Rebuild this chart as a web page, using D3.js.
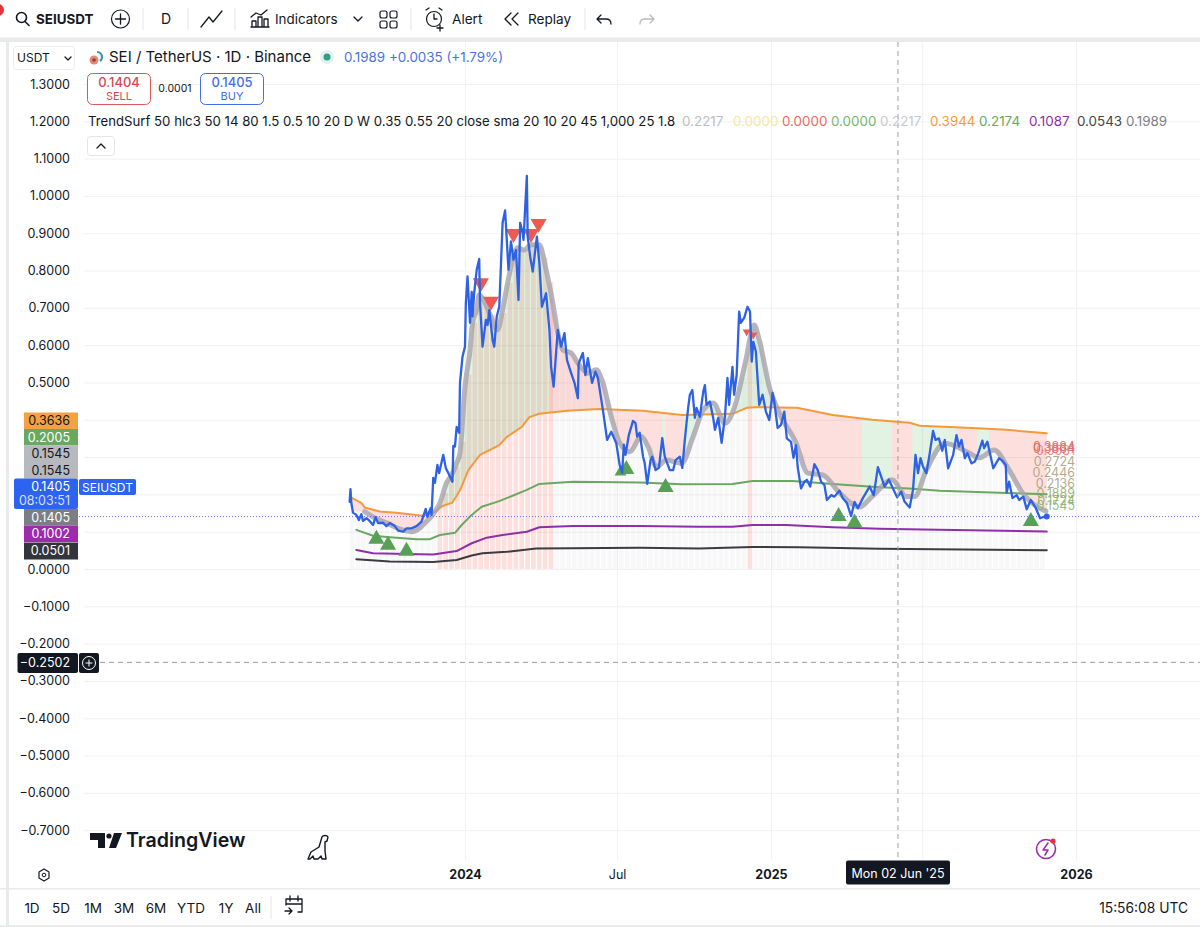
<!DOCTYPE html>
<html><head><meta charset="utf-8">
<script src="https://cdn.jsdelivr.net/npm/d3@7"></script>
<style>html,body{margin:0;padding:0;background:#fff;overflow:hidden}svg{display:block}text{font-family:Inter,"Noto Sans",sans-serif}</style>
</head><body><svg id="c" width="1200" height="927"></svg>
<script>
// ---------- data: days since 2023-08-16, prices in USDT ----------
const priceDays=[0,1,2,4,8,11,14,16,20,23,28,31,34,40,44,48,54,58,64,68,74,80,86,91,93,97,98,100,102,105,107,112,115,118,123,124,126,128,131,132,135,138,139,141,144,146,147,149,152,155,156,159,163,165,167,171,173,176,179,183,186,190,193,196,199,202,204,207,208,212,213,216,219,224,227,230,235,239,241,244,249,253,257,260,265,269,273,274,279,282,285,290,294,297,303,308,313,319,323,326,328,330,334,339,342,344,347,351,353,356,360,362,366,370,374,377,383,387,390,395,398,401,403,405,407,410,413,415,419,423,425,427,431,435,437,441,445,449,452,454,458,460,463,466,468,472,476,479,481,483,486,490,494,498,502,506,508,512,516,520,523,528,531,534,536,540,544,547,551,556,560,564,568,571,576,580,586,590,595,600,604,608,614,622,627,632,636,640,645,650,655,660,664,670,674,677,680,683,686,690,694,698,701,705,709,712,716,722,726,729,732,736,739,744,748,752,757,759,763,770,777,781,785,786,789,793,798,801,806,810,815,821,826,831,834];
const priceValues=[.180,.214,.177,.151,.145,.131,.147,.129,.136,.131,.118,.139,.123,.124,.115,.123,.115,.103,.100,.109,.109,.115,.127,.161,.140,.164,.145,.244,.231,.279,.257,.306,.271,.257,.234,.330,.328,.381,.365,.499,.569,.596,.713,.784,.660,.743,.677,.740,.802,.831,.713,.596,.668,.654,.694,.614,.596,.677,.703,.928,.961,.802,.878,.829,.855,.721,.928,.901,.882,1.054,.891,.837,.797,.891,.820,.703,.739,.641,.542,.489,.641,.596,.632,.560,.525,.499,.458,.551,.579,.520,.565,.499,.529,.512,.426,.346,.368,.337,.279,.258,.333,.306,.359,.397,.391,.355,.365,.301,.284,.228,.292,.301,.265,.271,.351,.301,.265,.265,.292,.301,.271,.346,.391,.432,.467,.480,.405,.432,.408,.475,.493,.440,.449,.404,.373,.405,.338,.408,.512,.440,.542,.467,.520,.690,.660,.673,.703,.690,.556,.609,.583,.440,.467,.422,.399,.472,.449,.378,.386,.422,.350,.341,.298,.332,.274,.216,.234,.239,.221,.281,.265,.234,.225,.185,.198,.194,.210,.190,.176,.142,.180,.163,.190,.221,.198,.273,.247,.221,.240,.216,.192,.207,.180,.165,.212,.306,.257,.297,.274,.257,.310,.370,.346,.350,.317,.346,.270,.306,.359,.328,.346,.297,.311,.283,.288,.310,.344,.324,.341,.270,.297,.290,.279,.205,.234,.190,.198,.185,.194,.160,.185,.163,.136,.140,.1405];
const smaDays=[18,30,45,57,74,81,90,99,108,116,122,128,132,138,144,147,152,155,161,169,177,183,189,195,201,209,217,227,235,243,249,255,265,273,285,295,303,313,323,335,349,357,367,379,397,411,423,435,449,462,474,484,490,502,514,534,548,566,586,610,625,649,666,676,690,712,741,753,771,789,805,833];
const smaValues=[.154,.137,.123,.110,.100,.105,.123,.145,.177,.231,.252,.284,.311,.489,.587,.660,.695,.735,.717,.677,.641,.695,.767,.829,.861,.855,.869,.869,.802,.713,.633,.587,.579,.552,.525,.534,.499,.408,.338,.314,.355,.328,.274,.292,.283,.355,.426,.445,.391,.445,.560,.654,.614,.489,.418,.338,.257,.252,.204,.166,.194,.239,.194,.194,.265,.337,.311,.298,.319,.265,.204,.1545];
const upperDays=[3,14,18,36,56,87,102,111,123,132,142,156,179,188,206,215,227,260,299,351,398,458,475,490,535,578,625,670,682,745,786,834];
const upperValues=[.190,.177,.165,.154,.151,.143,.153,.169,.178,.211,.265,.306,.332,.354,.381,.407,.416,.424,.429,.424,.413,.416,.432,.434,.432,.413,.400,.392,.384,.378,.373,.3636];
const midDays=[8,28,48,80,96,108,126,134,146,158,179,212,227,267,347,398,458,482,530,578,634,670,706,786,834];
const midValues=[.105,.089,.085,.080,.080,.091,.097,.118,.145,.167,.182,.212,.228,.234,.232,.227,.228,.236,.236,.228,.219,.216,.210,.204,.2005];
const lowDays=[8,28,68,100,128,146,164,183,212,227,267,347,418,458,482,522,578,634,686,834];
const lowValues=[.051,.042,.040,.039,.048,.069,.084,.091,.100,.112,.115,.115,.113,.113,.118,.118,.112,.108,.106,.1002];
const floorDays=[8,48,100,128,146,159,188,223,347,418,482,538,634,834];
const floorValues=[.026,.020,.019,.024,.036,.042,.046,.055,.057,.055,.059,.058,.054,.0501];
const sellDays=[157,169,196,217,226], sellValues=[.767,.717,.899,.899,.926];
const minorSellDays=[475,483], minorSellValues=[.636,.628];
const buyDays=[32,46,68,331,378,585,604,815], buyValues=[.080,.064,.048,.267,.219,.141,.124,.128];
const minorBuyDays=[324], minorBuyValues=[.260];
const pinkZones=[[3,100],[240,374],[378,400],[502,613],[649,673],[726,751],[765,834]];
const greenZones=[[100,240],[374,378],[400,502],[613,649],[673,726],[751,765]];
const hotWeeks=[[105,245],[473,480]];
const yTicks=[1.3,1.2,1.1,1,.9,.8,.7,.6,.5,.4,.3,.2,.1,0,-.1,-.2,-.3,-.4,-.5,-.6,-.7];
const yLabelsUnderTags=[.4,.3,.2,.1];
const xTickDates=[new Date(Date.UTC(2024,0,1)),new Date(Date.UTC(2024,6,1)),new Date(Date.UTC(2025,0,1)),new Date(Date.UTC(2026,0,1))];
const xTickNames=["2024","Jul","2025","2026"];
const xGridDates=[...xTickDates,new Date(Date.UTC(2025,6,1))];
const priceTags=[["0.3636","#f4a13f","#131722"],["0.2005","#68a95f","#fff"],["0.1545","#b7b9be","#131722"],["0.1545","#b7b9be","#131722"],["0.1405","#7c7e85","#fff"],["0.1002","#9c2cab","#fff"],["0.0501","#33353d","#fff"]];
const endLabels=[["0.3884",451,"#e0605a"],["0.3864",453,"#e0605a"],["0.3581",455,"#e0807a"],["0.2724",466,"#a89a78"],["0.2446",477,"#a89a78"],["0.2136",488,"#a89a78"],["0.1889",498,"#8fa868"],["0.1724",505,"#8fa868"],["0.1545",510,"#7fb56e"]];
const studyParams="TrendSurf 50 hlc3 50 14 80 1.5 0.5 10 20 D W 0.35 0.55 20 close sma 20 10 20 45 1,000 25 1.8";
const studyValues=[["0.2217","#b9c0c6",682],["0.0000","#f5e79e",733],["0.0000","#ee6a62",782],["0.0000","#79b56f",831],["0.2217","#c6cad0",880],["0.3944","#f49a3b",930],["0.2174","#68a95f",979],["0.1087","#8e2fa8",1029],["0.0543","#444",1077],["0.1989","#7c7e85",1126]];
const rangeButtons=[["1D",32],["5D",61],["1M",93],["3M",124],["6M",156],["YTD",191],["1Y",226],["All",253]];

// ---------- scales ----------
const svg=d3.select("#c");
const dayDate=d=>new Date(Date.UTC(2023,7,16+d));
const x=d3.scaleUtc().domain([new Date(Date.UTC(2024,0,1)),new Date(Date.UTC(2026,0,1))]).range([465,1076]);
const y=d3.scaleLinear().domain([0,1.3]).range([569,84]);
const X=d=>x(dayDate(d));
const smaAt=d3.scaleLinear().domain(smaDays).range(smaValues).clamp(true);
const upperAt=d3.scaleLinear().domain(upperDays).range(upperValues).clamp(true);

// ---------- grid ----------
const grid=svg.append("g").attr("stroke","#f0f1f2").attr("stroke-width",1);
grid.selectAll("line.h").data(yTicks).join("line").attr("class","h").attr("x1",84).attr("x2",1200).attr("y1",d=>y(d)+.5).attr("y2",d=>y(d)+.5);
grid.selectAll("line.v").data(xGridDates).join("line").attr("class","v").attr("y1",42).attr("y2",860).attr("x1",d=>x(d)+.5).attr("x2",d=>x(d)+.5);

// ---------- weekly columns ----------
const weekW=X(7)-X(0);
svg.append("g").selectAll("rect").data(d3.range(0,833,7)).join("rect")
 .attr("x",d=>X(d)).attr("width",weekW-1.1)
 .attr("y",d=>y(smaAt(d))).attr("height",d=>y(0)-y(smaAt(d)))
 .attr("fill",d=>hotWeeks.some(z=>d>=z[0]&&d<z[1])?"rgba(244,67,54,.17)":"rgba(120,123,134,.05)");

// ---------- zones between the average and the upper band ----------
const band=d3.area().x(X).y0(d=>y(upperAt(d))).y1(d=>y(smaAt(d)));
const zoneG=svg.append("g");
pinkZones.forEach(z=>zoneG.append("path").attr("d",band(d3.range(z[0],z[1]+1))).attr("fill","rgba(244,67,54,.17)"));
greenZones.forEach(z=>zoneG.append("path").attr("d",band(d3.range(z[0],z[1]+1))).attr("fill","rgba(76,175,80,.16)"));

// ---------- lines ----------
const line=d3.line().x(p=>X(p[0])).y(p=>y(p[1]));
const zip=(a,b)=>a.map((d,i)=>[d,b[i]]);
const drawLine=(a,b,c,w)=>svg.append("path").attr("d",line(zip(a,b))).attr("fill","none").attr("stroke",c).attr("stroke-width",w).attr("stroke-linejoin","round").attr("stroke-linecap","round");
drawLine(floorDays,floorValues,"#3b3b42",2);
drawLine(lowDays,lowValues,"#8e2fa8",2);
drawLine(midDays,midValues,"#6aa861",2);
drawLine(upperDays,upperValues,"#f49a3b",2);
svg.append("path").attr("d",d3.line().curve(d3.curveMonotoneX).x(p=>X(p[0])).y(p=>y(p[1]))(zip(smaDays,smaValues))).attr("fill","none").attr("stroke","rgba(165,163,170,.8)").attr("stroke-width",5).attr("stroke-linecap","round");

// ---------- signals ----------
const tri=(days,vals,big,col,up)=>svg.append("g").selectAll("path").data(zip(days,vals)).join("path")
 .attr("d",d3.symbol(d3.symbolTriangle,big))
 .attr("transform",p=>`translate(${X(p[0])},${y(p[1])}) ${up?"":"rotate(180)"}`).attr("fill",col);
tri(sellDays,sellValues,112,"#ee5a52",false);
tri(minorSellDays,minorSellValues,28,"#ee5a52",false);
tri(minorBuyDays,minorBuyValues,60,"#5a9f57",true);
tri(buyDays,buyValues,112,"#5a9f57",true);

// dotted price line
svg.append("line").attr("x1",79).attr("x2",1200).attr("y1",y(.1405)).attr("y2",y(.1405)).attr("stroke","#5a7bd8").attr("stroke-width",1).attr("stroke-dasharray","1 2");
drawLine(priceDays,priceValues,"#2e62e3",2.3);
svg.append("circle").attr("cx",X(834)).attr("cy",y(.1405)).attr("r",3).attr("fill","#2e62e3");

// right end labels
svg.append("g").selectAll("text").data(endLabels).join("text").attr("x",1075).attr("y",d=>d[1]).attr("text-anchor","end").attr("font-size",12.5).attr("fill",d=>d[2]).attr("fill-opacity",.85).text(d=>d[0]);

// crosshair
svg.append("line").attr("x1",X(656)).attr("x2",X(656)).attr("y1",42).attr("y2",860).attr("stroke","#9c9ea4").attr("stroke-dasharray","5 4");
svg.append("line").attr("x1",100).attr("x2",1200).attr("y1",y(-.2502)).attr("y2",y(-.2502)).attr("stroke","#9c9ea4").attr("stroke-dasharray","5 4");

// ---------- axes ----------
const yAxis=d3.axisLeft(y).tickValues(yTicks.filter(t=>!yLabelsUnderTags.includes(t))).tickSize(0).tickPadding(0).tickFormat(d3.format(".4f"));
const ya=svg.append("g").attr("transform","translate(70,0)").call(yAxis);
ya.select(".domain").remove();
ya.selectAll("text").attr("font-size",12.5).attr("fill","#131722").attr("font-family","Inter");
const xAxis=d3.axisBottom(x).tickValues(xTickDates).tickSize(0).tickPadding(0).tickFormat((d,i)=>xTickNames[i]);
const xa=svg.append("g").attr("transform","translate(0,870)").call(xAxis);
xa.select(".domain").remove();
xa.selectAll("text").attr("font-size",12.5).attr("fill","#131722").attr("font-family","Inter").attr("font-weight",(d,i)=>i==1?400:700);

// ---------- tags ----------
const tagG=svg.append("g");
const tagRows=[412.5,429,445.5,462,509,525.5,542.5];
priceTags.forEach((t,i)=>{
  tagG.append("rect").attr("x",24).attr("y",tagRows[i]).attr("width",54).attr("height",i==6?17:16.5).attr("fill",t[1]);
  tagG.append("text").attr("x",70).attr("y",tagRows[i]+12.8).attr("text-anchor","end").attr("font-size",12.5).attr("fill",t[2]).text(t[0]);
});
tagG.append("rect").attr("x",14).attr("y",478.5).attr("width",64).attr("height",30.5).attr("rx",2).attr("fill","#2e62f0");
tagG.append("text").attr("x",70).attr("y",491).attr("text-anchor","end").attr("font-size",12.5).attr("fill","#fff").text("0.1405");
tagG.append("text").attr("x",70).attr("y",505).attr("text-anchor","end").attr("font-size",12.5).attr("fill","#d6e0ff").text("08:03:51");
tagG.append("rect").attr("x",79).attr("y",479).attr("width",57).attr("height",16).attr("rx",2).attr("fill","#2e62f0");
tagG.append("text").attr("x",107.5).attr("y",491.5).attr("text-anchor","middle").attr("font-size",12).attr("fill","#fff").text("SEIUSDT");
tagG.append("rect").attr("x",17.5).attr("y",653).attr("width",60.5).attr("height",20).attr("rx",2).attr("fill","#131722");
tagG.append("text").attr("x",70).attr("y",667).attr("text-anchor","end").attr("font-size",12.5).attr("fill","#fff").text("−0.2502");
tagG.append("rect").attr("x",79).attr("y",653).attr("width",20).attr("height",20).attr("rx",2).attr("fill","#131722");
tagG.append("circle").attr("cx",89).attr("cy",663).attr("r",6.5).attr("fill","none").attr("stroke","#fff");
tagG.append("path").attr("d","M89 659.5v7M85.5 663h7").attr("stroke","#fff");
tagG.append("rect").attr("x",846).attr("y",860.5).attr("width",104).attr("height",24).attr("rx",2).attr("fill","#131722");
tagG.append("text").attr("x",898).attr("y",877.5).attr("text-anchor","middle").attr("font-size",12.5).attr("fill","#fff").text("Mon 02 Jun '25");

// ---------- chrome ----------
const ui=svg.append("g");
const T=(s,px,py,o={})=>ui.append("text").attr("x",px).attr("y",py).attr("font-size",o.s||13).attr("fill",o.c||"#131722").attr("font-weight",o.w||400).attr("text-anchor",o.a||"start").text(s);
const S=(d,c="#131722",w=1.3)=>ui.append("path").attr("d",d).attr("fill","none").attr("stroke",c).attr("stroke-width",w).attr("stroke-linecap","round").attr("stroke-linejoin","round");
ui.append("rect").attr("x",0).attr("y",37.5).attr("width",1200).attr("height",4.5).attr("fill","#e9eaec");
ui.append("rect").attr("x",6).attr("y",42).attr("width",3).attr("height",885).attr("fill","#e9eaec");
ui.append("rect").attr("x",0).attr("y",888).attr("width",1200).attr("height",1.5).attr("fill","#e9eaec");
ui.append("rect").attr("x",0).attr("y",925).attr("width",1200).attr("height",2).attr("fill","#e9eaec");
ui.append("circle").attr("cx",-2).attr("cy",10).attr("r",6).attr("fill","#e5343c");
ui.append("circle").attr("cx",21.5).attr("cy",17.5).attr("r",5).attr("fill","none").attr("stroke","#131722").attr("stroke-width",1.6);
S("M25 21.5l4 4","#131722",1.6);
T("SEIUSDT",36,24,{s:13.4,w:700});
ui.append("circle").attr("cx",120.5).attr("cy",19).attr("r",9).attr("fill","none").attr("stroke","#131722").attr("stroke-width",1.2);
S("M120.5 14v10M115.5 19h10");
[143,188,235,411,585].forEach(v=>ui.append("line").attr("x1",v).attr("x2",v).attr("y1",8).attr("y2",30).attr("stroke","#e4e5e8"));
T("D",166,24,{s:14,a:"middle"});
S("M201 27l8-10 4 5 9-11");
S("M251 27h18M252 26v-5h4v5M258 26v-9h4v9M264 26v-7h4v7M251 17l5-4 5 2 6-5");
T("Indicators",275,24,{s:13.4});
S("M354 17l4 4 4-4");
[[380,11],[390,11],[380,21],[390,21]].forEach(p=>ui.append("rect").attr("x",p[0]).attr("y",p[1]).attr("width",7).attr("height",7).attr("rx",2).attr("fill","none").attr("stroke","#131722").attr("stroke-width",1.2));
ui.append("circle").attr("cx",434).attr("cy",19).attr("r",7.5).attr("fill","none").attr("stroke","#131722").attr("stroke-width",1.2);
S("M434 14v5h3M426 10l3-2M442 10l-3-2M440 25v6M437 28h6");
T("Alert",452,24,{s:13.6});
S("M511 13l-6 6 6 6M518 13l-6 6 6 6");
T("Replay",528,24,{s:13.6});
S("M601 15l-4 4 4 4M597 19h9c3 0 5 2 5 5");
S("M650 15l4 4-4 4M654 19h-9c-3 0-5 2-5 5","#b8bac0");
ui.append("rect").attr("x",13.5).attr("y",46.5).attr("width",61).attr("height",23).attr("rx",3).attr("fill","#fff").attr("stroke","#eceded");
T("USDT",17,62,{s:12});
S("M65 57l3 3 3-3");
ui.append("circle").attr("cx",94).attr("cy",60).attr("r",4.5).attr("fill","#d98f7c");
ui.append("circle").attr("cx",94).attr("cy",60).attr("r",1.8).attr("fill","#a33");
ui.append("path").attr("d","M97 52a5 5 0 0 1 5 5a5 5 0 0 1-2 4").attr("fill","none").attr("stroke","#2f9aa0").attr("stroke-width",2.2);
T("SEI / TetherUS · 1D · Binance",109,62,{s:15});
ui.append("circle").attr("cx",327).attr("cy",57).attr("r",7).attr("fill","#e3f1ee");
ui.append("circle").attr("cx",327).attr("cy",57).attr("r",3.5).attr("fill","#2f9e88");
T("0.1989 +0.0035 (+1.79%)",344,62,{s:13.4,c:"#4a72e0"});
ui.append("rect").attr("x",87.5).attr("y",73.5).attr("width",63).attr("height",31).attr("rx",5).attr("fill","#fff").attr("stroke","#e0555a");
T("0.1404",119,87,{s:13,c:"#d8484e",a:"middle",w:500});
T("SELL",119,100,{s:11,c:"#d8484e",a:"middle"});
T("0.0001",175,92,{s:10.5,a:"middle"});
ui.append("rect").attr("x",200.5).attr("y",73.5).attr("width",63).attr("height",31).attr("rx",5).attr("fill","#fff").attr("stroke","#3f6fe8");
T("0.1405",232,87,{s:13,c:"#3f6fe8",a:"middle",w:500});
T("BUY",232,100,{s:11,c:"#3f6fe8",a:"middle"});
T(studyParams,88,126,{s:13.2});
studyValues.forEach(v=>T(v[0],v[2],126,{s:13.4,c:v[1]}));
ui.append("rect").attr("x",87.5).attr("y",136.5).attr("width",27).attr("height",19).attr("rx",3).attr("fill","#fff").attr("stroke","#e4e5e8");
S("M97 148l4-4 4 4");
// TradingView mark
ui.append("path").attr("d","M90 833h15v15h-7v-8h-8zM114 833h8l-6 15h-7z").attr("fill","#131722");
ui.append("circle").attr("cx",109).attr("cy",836).attr("r",2.6).attr("fill","#131722");
T("TradingView",126,847,{s:19.6,w:600});
S("M308 859l3-7 8-5 3-10c1-2 5-2 6 0l-1 4-2 1 0 9 1 8h-4l-1-3-3 3h-4l-1-3-3 3z","#131722",1.4);
S("M39 872l5-3 5 3v6l-5 3-5-3z","#131722",1.2);
ui.append("circle").attr("cx",44).attr("cy",875).attr("r",1.8).attr("fill","none").attr("stroke","#131722");
ui.append("circle").attr("cx",1046).attr("cy",849).attr("r",9.5).attr("fill","none").attr("stroke","#9c2cab").attr("stroke-width",1.6);
S("M1048 843l-5 7h5l-3 5","#9c2cab",1.5);
ui.append("circle").attr("cx",1053).attr("cy",841).attr("r",2.6).attr("fill","#e5343c");
rangeButtons.forEach(b=>T(b[0],b[1],913,{s:13.5,a:"middle"}));
ui.append("line").attr("x1",271).attr("x2",271).attr("y1",896).attr("y2",919).attr("stroke","#e4e5e8");
S("M286 899h16v13h-4M286 899v6M290 896v5M298 896v5M286 904h16M285 911h7M289 908l3 3-3 3");
T("15:56:08 UTC",1188,913,{s:13.8,a:"end"});
</script></body></html>
